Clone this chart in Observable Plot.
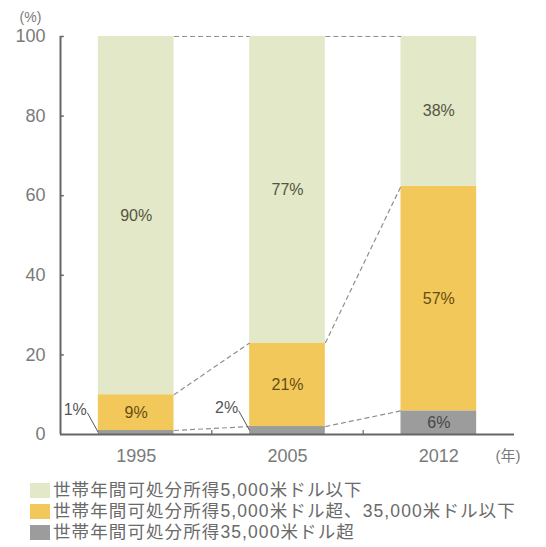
<!DOCTYPE html>
<html><head><meta charset="utf-8">
<script src="https://cdn.jsdelivr.net/npm/d3@7"></script>
<script src="https://cdn.jsdelivr.net/npm/@observablehq/plot@0.6"></script>
<style>
body{margin:0;background:#fff;font-family:"Liberation Sans","Noto Sans CJK JP",sans-serif;}
#legend{margin-top:8px;padding-left:30px;}
.row{display:flex;align-items:center;height:21px;overflow:visible;white-space:nowrap}
.sw{width:20px;height:15px;margin-right:3px;flex:none}
.lt{display:block;height:21px;line-height:21px;font-size:17.5px;color:#6a6a6a;letter-spacing:1.1px;overflow:visible}
</style></head><body><div id="chart"></div><div id="legend"></div>
<script>
const years = ["1995", "2005", "2012"];
const categories = [
  "世帯年間可処分所得5,000米ドル以下",
  "世帯年間可処分所得5,000米ドル超、35,000米ドル以下",
  "世帯年間可処分所得35,000米ドル超"
];
const shareLow = [90, 77, 38];
const shareMid = [9, 21, 57];
const shareHigh = [1, 2, 6];
const colors = ["#e2e8c8", "#f3c85a", "#9c9c9c"];
const labelColors = ["#55553f", "#654c12", "#474747"];
const yTicks = [0, 20, 40, 60, 80, 100];
const yearUnit = "(年)";
const pctUnit = "(%)";

const FONT = '"Liberation Sans","Noto Sans CJK JP",sans-serif';
const half = 0.25;

// stacked segments, bottom to top: high, mid, low (normalized to 100)
const segs = [];
const bounds = [];
years.forEach((yr, i) => {
  const vals = [shareHigh[i], shareMid[i], shareLow[i]];
  const cats = [2, 1, 0];
  const total = d3.sum(vals);
  let cum = 0;
  const b = [];
  vals.forEach((v, k) => {
    const y1 = cum / total * 100;
    cum += v;
    const y2 = cum / total * 100;
    segs.push({i, year: yr, c: cats[k], cat: categories[cats[k]], value: v, y1, y2, ym: (y1 + y2) / 2, label: v + "%"});
    b.push(y2);
  });
  bounds.push(b);
});
const connectors = [];
for (let i = 0; i < years.length - 1; i++) {
  for (let k = 0; k < 3; k++) {
    connectors.push({x1: i + half, x2: i + 1 - half, y1: bounds[i][k], y2: bounds[i + 1][k]});
  }
}
const inside = segs.filter(d => d.value >= 5);
const outside = segs.filter(d => d.value < 5);
const leadX = 0.073, leadY = 5;

const chart = Plot.plot({
  width: 546, height: 472,
  marginLeft: 60, marginRight: 32, marginTop: 36, marginBottom: 38,
  x: {domain: [-0.5, 2.5], axis: null},
  y: {domain: [0, 100], axis: null},
  color: {domain: categories, range: colors},
  style: {fontFamily: FONT, background: "transparent", overflow: "visible"},
  marks: [
    Plot.rectY(segs, {x1: d => d.i - half, x2: d => d.i + half, y1: "y1", y2: "y2", fill: "cat"}),
    Plot.link(connectors, {x1: "x1", x2: "x2", y1: "y1", y2: "y2", stroke: "#8f8f8f", strokeWidth: 1.2, strokeDasharray: "5,3"}),
    ...[0, 1, 2].map(c => Plot.text(inside.filter(d => d.c === c), {x: "i", y: "ym", text: "label", fill: labelColors[c], fontSize: 16, fontFamily: FONT})),
    Plot.link(outside, {x1: d => d.i - half - leadX, y1: d => d.ym + leadY, x2: d => d.i - half, y2: "ym", stroke: "#555", strokeWidth: 1}),
    Plot.text(outside, {x: d => d.i - half - leadX, y: d => d.ym + leadY, dx: -12, dy: -3, text: "label", fill: "#555", fontSize: 16, fontFamily: FONT}),
    Plot.ruleY([0], {stroke: "#666", strokeWidth: 2}),
    Plot.ruleX([-0.5], {y1: 0, y2: 100, stroke: "#666", strokeWidth: 2}),
    Plot.ruleY(yTicks.slice(1), {x1: -0.5, x2: -0.475, stroke: "#666", strokeWidth: 1.5}),
    Plot.ruleX([0.5, 1.5], {y1: 0, y2: 1, stroke: "#666", strokeWidth: 1.2}),
    Plot.text(yTicks, {x: -0.5, y: d => d, text: d => String(d), textAnchor: "end", dx: -15, fill: "#7a7a7a", fontSize: 18, fontFamily: FONT}),
    Plot.text(years, {x: (d, i) => i, y: 0, dy: 22, text: d => d, fill: "#7a7a7a", fontSize: 18, fontFamily: FONT}),
    Plot.text([yearUnit], {x: 2.5, y: 0, dy: 22, dx: -19, textAnchor: "start", text: d => d, fill: "#7a7a7a", fontSize: 15, fontFamily: FONT}),
    Plot.text([pctUnit], {x: -0.5, y: 100, dx: -30, dy: -19, text: d => d, fill: "#7a7a7a", fontSize: 14, fontFamily: FONT})
  ]
});
document.getElementById("chart").appendChild(chart);

const legend = document.getElementById("legend");
categories.forEach((c, k) => {
  const row = document.createElement("div");
  row.className = "row";
  const sw = document.createElement("span");
  sw.className = "sw";
  sw.style.background = colors[k];
  const t = document.createElement("span");
  t.className = "lt";
  t.textContent = c;
  row.appendChild(sw);
  row.appendChild(t);
  legend.appendChild(row);
});
</script></body></html>
